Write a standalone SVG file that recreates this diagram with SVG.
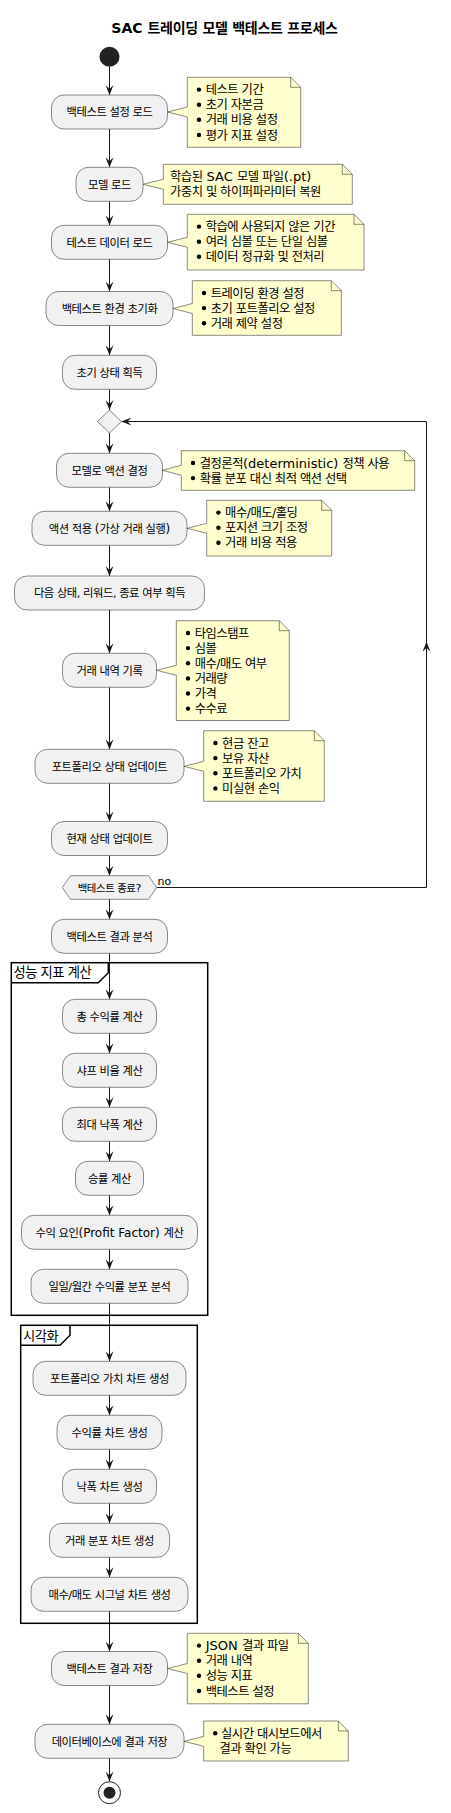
<svg xmlns="http://www.w3.org/2000/svg" width="451" height="1813" viewBox="0 0 451 1813">
<style>
text{font-family:"DejaVu Sans","Noto Sans CJK KR",sans-serif;fill:#000;letter-spacing:-0.04em}
.lat{letter-spacing:0}
.title{font-size:14px;font-weight:bold;text-anchor:middle;letter-spacing:-0.02em}
.title .lat{font-size:14px}
.act{font-size:11.3px;text-anchor:middle}
.act .lat{font-size:12px}
.note{font-size:12.3px}
.note .lat{font-size:13px}
.grp{font-size:13.3px}
.small{font-size:10.4px}
.small .lat{font-size:11px}
.box{fill:#F1F1F1;stroke:#181818;stroke-width:0.5}
.nt{fill:#FEFECE;stroke:#181818;stroke-width:0.5}
.fold{fill:none;stroke:#181818;stroke-width:0.5}
.bul{fill:#000}
.ln{fill:none;stroke:#181818;stroke-width:1;marker-end:url(#ah)}
.frame{fill:none;stroke:#000;stroke-width:1.5}
</style>
<defs>
<marker id="ah" viewBox="0 0 10 8" refX="10" refY="4" markerWidth="10" markerHeight="8" markerUnits="userSpaceOnUse" orient="auto">
<path d="M0,0 L10,4 L0,8 L4,4 Z" fill="#181818"/>
</marker>
</defs>
<rect width="451" height="1813" fill="#fff"/>
<text class="title" x="224.5" y="33"><tspan class="lat">SAC </tspan>트레이딩 모델 백테스트 프로세스</text>

<g id="groups">
<rect class="frame" x="11.3" y="962.7" width="196.4" height="352.6"/>
<path class="frame" d="M11.3,982.7 L98.3,982.7 L108.3,972.7 L108.3,962.7"/>
<text class="grp" x="13.5" y="977">성능 지표 계산</text>
<rect class="frame" x="20.7" y="1325.3" width="176.6" height="298"/>
<path class="frame" d="M20.7,1345.3 L60,1345.3 L70,1335.3 L70,1325.3"/>
<text class="grp" x="23" y="1340.5">시각화</text>
</g>

<g id="connectors">
<path class="ln" d="M109.5,66.7 V95"/>
<path class="ln" d="M109.5,129 V167.3"/>
<path class="ln" d="M109.5,201.3 V225.3"/>
<path class="ln" d="M109.5,259.3 V291.5"/>
<path class="ln" d="M109.5,325.5 V355.3"/>
<path class="ln" d="M109.5,389.3 V410"/>
<path class="ln" d="M109.5,433 V453.3"/>
<path class="ln" d="M109.5,487.3 V511.3"/>
<path class="ln" d="M109.5,545.3 V576"/>
<path class="ln" d="M109.5,610 V653.3"/>
<path class="ln" d="M109.5,687.3 V749.3"/>
<path class="ln" d="M109.5,783.3 V821.5"/>
<path class="ln" d="M109.5,855.5 V875.7"/>
<path class="ln" d="M156.7,887.5 H426.5 V641.7"/>
<path class="ln" d="M426.5,645 V421.5 H121.5"/>
<path class="ln" d="M109.5,899.3 V919.3"/>
<path class="ln" d="M109.5,953.3 V999.3"/>
<path class="ln" d="M109.5,1033.3 V1053.3"/>
<path class="ln" d="M109.5,1087.3 V1107.3"/>
<path class="ln" d="M109.5,1141.3 V1161.3"/>
<path class="ln" d="M109.5,1195.3 V1215.3"/>
<path class="ln" d="M109.5,1249.3 V1269.3"/>
<path class="ln" d="M109.5,1303.3 V1361.3"/>
<path class="ln" d="M109.5,1395.3 V1415.3"/>
<path class="ln" d="M109.5,1449.3 V1469.3"/>
<path class="ln" d="M109.5,1503.3 V1523.3"/>
<path class="ln" d="M109.5,1557.3 V1577.3"/>
<path class="ln" d="M109.5,1611.3 V1651.5"/>
<path class="ln" d="M109.5,1685.5 V1724.3"/>
<path class="ln" d="M109.5,1758.3 V1781.4"/>
<text class="small" x="157.5" y="884.5"><tspan class="lat">no</tspan></text>
</g>

<g id="start"><circle cx="109.5" cy="56.7" r="10" fill="#222"/></g>

<g id="n1"><rect class="box" x="51.5" y="95" width="116" height="34" rx="12.5"/><text class="act" x="109.5" y="116.3">백테스트 설정 로드</text></g>
<g id="n2"><rect class="box" x="76" y="167.3" width="67" height="34" rx="12.5"/><text class="act" x="109.5" y="188.6">모델 로드</text></g>
<g id="n3"><rect class="box" x="51.5" y="225.3" width="116" height="34" rx="12.5"/><text class="act" x="109.5" y="246.6">테스트 데이터 로드</text></g>
<g id="n4"><rect class="box" x="46" y="291.5" width="127" height="34" rx="12.5"/><text class="act" x="109.5" y="312.8">백테스트 환경 초기화</text></g>
<g id="n5"><rect class="box" x="62.5" y="355.3" width="94" height="34" rx="12.5"/><text class="act" x="109.5" y="376.6">초기 상태 획득</text></g>
<g id="merge"><polygon class="box" points="109.5,410 121.5,421.5 109.5,433 97.5,421.5"/></g>
<g id="n6"><rect class="box" x="56.5" y="453.3" width="106" height="34" rx="12.5"/><text class="act" x="109.5" y="474.6">모델로 액션 결정</text></g>
<g id="n7"><rect class="box" x="32" y="511.3" width="155" height="34" rx="12.5"/><text class="act" x="109.5" y="532.6">액션 적용 <tspan class="lat">(</tspan>가상 거래 실행<tspan class="lat">)</tspan></text></g>
<g id="n8"><rect class="box" x="14.5" y="576" width="190" height="34" rx="12.5"/><text class="act" x="109.5" y="597.3">다음 상태, 리워드, 종료 여부 획득</text></g>
<g id="n9"><rect class="box" x="62.5" y="653.3" width="94" height="34" rx="12.5"/><text class="act" x="109.5" y="674.6">거래 내역 기록</text></g>
<g id="n10"><rect class="box" x="35" y="749.3" width="149" height="34" rx="12.5"/><text class="act" x="109.5" y="770.6">포트폴리오 상태 업데이트</text></g>
<g id="n11"><rect class="box" x="51.5" y="821.5" width="116" height="34" rx="12.5"/><text class="act" x="109.5" y="842.8">현재 상태 업데이트</text></g>
<g id="dec"><polygon class="box" points="62.3,887.5 70.5,875.7 148.5,875.7 156.7,887.5 148.5,899.3 70.5,899.3"/><text class="small" x="109.5" y="891.5" text-anchor="middle">백테스트 종료<tspan class="lat">?</tspan></text></g>
<g id="n12"><rect class="box" x="51.5" y="919.3" width="116" height="34" rx="12.5"/><text class="act" x="109.5" y="940.6">백테스트 결과 분석</text></g>
<g id="n13"><rect class="box" x="62.5" y="999.3" width="94" height="34" rx="12.5"/><text class="act" x="109.5" y="1020.6">총 수익률 계산</text></g>
<g id="n14"><rect class="box" x="62.5" y="1053.3" width="94" height="34" rx="12.5"/><text class="act" x="109.5" y="1074.6">샤프 비율 계산</text></g>
<g id="n15"><rect class="box" x="62.5" y="1107.3" width="94" height="34" rx="12.5"/><text class="act" x="109.5" y="1128.6">최대 낙폭 계산</text></g>
<g id="n16"><rect class="box" x="75.5" y="1161.3" width="68" height="34" rx="12.5"/><text class="act" x="109.5" y="1182.6">승률 계산</text></g>
<g id="n17"><rect class="box" x="21.5" y="1215.3" width="176" height="34" rx="12.5"/><text class="act" x="109.5" y="1236.6">수익 요인<tspan class="lat">(Profit Factor) </tspan>계산</text></g>
<g id="n18"><rect class="box" x="31" y="1269.3" width="157" height="34" rx="12.5"/><text class="act" x="109.5" y="1290.6">일일/월간 수익률 분포 분석</text></g>
<g id="n19"><rect class="box" x="33" y="1361.3" width="153" height="34" rx="12.5"/><text class="act" x="109.5" y="1382.6">포트폴리오 가치 차트 생성</text></g>
<g id="n20"><rect class="box" x="57" y="1415.3" width="105" height="34" rx="12.5"/><text class="act" x="109.5" y="1436.6">수익률 차트 생성</text></g>
<g id="n21"><rect class="box" x="62.5" y="1469.3" width="94" height="34" rx="12.5"/><text class="act" x="109.5" y="1490.6">낙폭 차트 생성</text></g>
<g id="n22"><rect class="box" x="49.5" y="1523.3" width="120" height="34" rx="12.5"/><text class="act" x="109.5" y="1544.6">거래 분포 차트 생성</text></g>
<g id="n23"><rect class="box" x="31" y="1577.3" width="157" height="34" rx="12.5"/><text class="act" x="109.5" y="1598.6">매수/매도 시그널 차트 생성</text></g>
<g id="n24"><rect class="box" x="51.5" y="1651.5" width="116" height="34" rx="12.5"/><text class="act" x="109.5" y="1672.8">백테스트 결과 저장</text></g>
<g id="n25"><rect class="box" x="35" y="1724.3" width="149" height="34" rx="12.5"/><text class="act" x="109.5" y="1745.6">데이터베이스에 결과 저장</text></g>
<g id="end"><circle cx="109.5" cy="1792.7" r="11" fill="none" stroke="#222" stroke-width="1"/><circle cx="109.5" cy="1792.7" r="6" fill="#222"/></g>

<g id="note1">
<path class="nt" d="M187.3,77.3 L290.7,77.3 L300.7,87.3 L300.7,147.3 L187.3,147.3 L187.3,117 L167.5,112 L187.3,107 Z"/>
<path class="fold" d="M290.7,77.3 L290.7,87.3 L300.7,87.3"/>
<circle class="bul" cx="199" cy="89.6" r="2.2"/><circle class="bul" cx="199" cy="104.7" r="2.2"/><circle class="bul" cx="199" cy="119.8" r="2.2"/><circle class="bul" cx="199" cy="135" r="2.2"/>
<text class="note" x="205.7" y="94.1">테스트 기간</text>
<text class="note" x="205.7" y="109.2">초기 자본금</text>
<text class="note" x="205.7" y="124.3">거래 비용 설정</text>
<text class="note" x="205.7" y="139.5">평가 지표 설정</text>
</g>
<g id="note2">
<path class="nt" d="M163.3,164.3 L342.3,164.3 L352.3,174.3 L352.3,204.3 L163.3,204.3 L163.3,189.3 L143,184.3 L163.3,179.3 Z"/>
<path class="fold" d="M342.3,164.3 L342.3,174.3 L352.3,174.3"/>
<text class="note" x="170" y="181.1">학습된<tspan class="lat"> SAC </tspan>모델 파일<tspan class="lat">(.pt)</tspan></text>
<text class="note" x="170" y="196.2">가중치 및 하이퍼파라미터 복원</text>
</g>
<g id="note3">
<path class="nt" d="M187.3,214.3 L354,214.3 L364,224.3 L364,270 L187.3,270 L187.3,247.3 L167.5,242.3 L187.3,237.3 Z"/>
<path class="fold" d="M354,214.3 L354,224.3 L364,224.3"/>
<circle class="bul" cx="199" cy="226.6" r="2.2"/><circle class="bul" cx="199" cy="241.7" r="2.2"/><circle class="bul" cx="199" cy="256.8" r="2.2"/>
<text class="note" x="205.7" y="231.1">학습에 사용되지 않은 기간</text>
<text class="note" x="205.7" y="246.2">여러 심볼 또는 단일 심볼</text>
<text class="note" x="205.7" y="261.3">데이터 정규화 및 전처리</text>
</g>
<g id="note4">
<path class="nt" d="M192.3,280.7 L331.3,280.7 L341.3,290.7 L341.3,335.3 L192.3,335.3 L192.3,313.5 L173,308.5 L192.3,303.5 Z"/>
<path class="fold" d="M331.3,280.7 L331.3,290.7 L341.3,290.7"/>
<circle class="bul" cx="204" cy="293" r="2.2"/><circle class="bul" cx="204" cy="308.1" r="2.2"/><circle class="bul" cx="204" cy="323.2" r="2.2"/>
<text class="note" x="210.7" y="297.5">트레이딩 환경 설정</text>
<text class="note" x="210.7" y="312.6">초기 포트폴리오 설정</text>
<text class="note" x="210.7" y="327.7">거래 제약 설정</text>
</g>
<g id="note6">
<path class="nt" d="M181.3,450.7 L404.7,450.7 L414.7,460.7 L414.7,490.3 L181.3,490.3 L181.3,475.3 L162.5,470.3 L181.3,465.3 Z"/>
<path class="fold" d="M404.7,450.7 L404.7,460.7 L414.7,460.7"/>
<circle class="bul" cx="193" cy="463" r="2.2"/><circle class="bul" cx="193" cy="478.1" r="2.2"/>
<text class="note" x="199.7" y="467.5">결정론적<tspan class="lat">(deterministic) </tspan>정책 사용</text>
<text class="note" x="199.7" y="482.6">확률 분포 대신 최적 액션 선택</text>
</g>
<g id="note7">
<path class="nt" d="M206.7,500.3 L321.7,500.3 L331.7,510.3 L331.7,556 L206.7,556 L206.7,533.3 L187,528.3 L206.7,523.3 Z"/>
<path class="fold" d="M321.7,500.3 L321.7,510.3 L331.7,510.3"/>
<circle class="bul" cx="218.4" cy="512.6" r="2.2"/><circle class="bul" cx="218.4" cy="527.7" r="2.2"/><circle class="bul" cx="218.4" cy="542.8" r="2.2"/>
<text class="note" x="225.1" y="517.1">매수/매도/홀딩</text>
<text class="note" x="225.1" y="532.2">포지션 크기 조정</text>
<text class="note" x="225.1" y="547.3">거래 비용 적용</text>
</g>
<g id="note9">
<path class="nt" d="M176.3,620.7 L279.3,620.7 L289.3,630.7 L289.3,720.5 L176.3,720.5 L176.3,675.3 L156.5,670.3 L176.3,665.3 Z"/>
<path class="fold" d="M279.3,620.7 L279.3,630.7 L289.3,630.7"/>
<circle class="bul" cx="188" cy="633" r="2.2"/><circle class="bul" cx="188" cy="648.1" r="2.2"/><circle class="bul" cx="188" cy="663.2" r="2.2"/><circle class="bul" cx="188" cy="678.4" r="2.2"/><circle class="bul" cx="188" cy="693.5" r="2.2"/><circle class="bul" cx="188" cy="708.6" r="2.2"/>
<text class="note" x="194.7" y="637.5">타임스탬프</text>
<text class="note" x="194.7" y="652.6">심볼</text>
<text class="note" x="194.7" y="667.7">매수/매도 여부</text>
<text class="note" x="194.7" y="682.9">거래량</text>
<text class="note" x="194.7" y="698">가격</text>
<text class="note" x="194.7" y="713.1">수수료</text>
</g>
<g id="note10">
<path class="nt" d="M203.7,730.7 L314.3,730.7 L324.3,740.7 L324.3,801.3 L203.7,801.3 L203.7,771.3 L184,766.3 L203.7,761.3 Z"/>
<path class="fold" d="M314.3,730.7 L314.3,740.7 L324.3,740.7"/>
<circle class="bul" cx="215.4" cy="743" r="2.2"/><circle class="bul" cx="215.4" cy="758.1" r="2.2"/><circle class="bul" cx="215.4" cy="773.2" r="2.2"/><circle class="bul" cx="215.4" cy="788.4" r="2.2"/>
<text class="note" x="222.1" y="747.5">현금 잔고</text>
<text class="note" x="222.1" y="762.6">보유 자산</text>
<text class="note" x="222.1" y="777.7">포트폴리오 가치</text>
<text class="note" x="222.1" y="792.9">미실현 손익</text>
</g>
<g id="note24">
<path class="nt" d="M187.3,1633.3 L298.3,1633.3 L308.3,1643.3 L308.3,1703.8 L187.3,1703.8 L187.3,1673.5 L167.5,1668.5 L187.3,1663.5 Z"/>
<path class="fold" d="M298.3,1633.3 L298.3,1643.3 L308.3,1643.3"/>
<circle class="bul" cx="199" cy="1645.6" r="2.2"/><circle class="bul" cx="199" cy="1660.7" r="2.2"/><circle class="bul" cx="199" cy="1675.8" r="2.2"/><circle class="bul" cx="199" cy="1691" r="2.2"/>
<text class="note" x="205.7" y="1650.1"><tspan class="lat">JSON </tspan>결과 파일</text>
<text class="note" x="205.7" y="1665.2">거래 내역</text>
<text class="note" x="205.7" y="1680.3">성능 지표</text>
<text class="note" x="205.7" y="1695.5">백테스트 설정</text>
</g>
<g id="note25">
<path class="nt" d="M203.7,1721 L338.3,1721 L348.3,1731 L348.3,1761 L203.7,1761 L203.7,1746.3 L184,1741.3 L203.7,1736.3 Z"/>
<path class="fold" d="M338.3,1721 L338.3,1731 L348.3,1731"/>
<circle class="bul" cx="215.2" cy="1733.3" r="2.2"/>
<text class="note" x="221" y="1737.8">실시간 대시보드에서</text>
<text class="note" x="219.5" y="1752.9">결과 확인 가능</text>
</g>
</svg>
